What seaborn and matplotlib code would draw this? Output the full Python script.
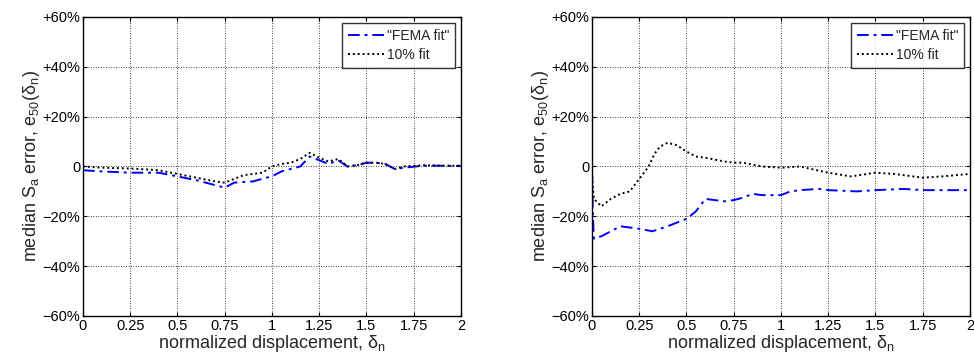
import numpy as np
import pandas as pd
import seaborn as sns
import matplotlib.pyplot as plt
from matplotlib.ticker import FuncFormatter

# painel esquerdo
x_esq_fema = [0, 0.1, 0.25, 0.4, 0.5, 0.6, 0.7, 0.75, 0.8, 0.9, 0.97, 1.0, 1.05, 1.1, 1.15,
              1.2, 1.25, 1.3, 1.35, 1.4, 1.45, 1.5, 1.55, 1.6, 1.65, 1.7, 1.8, 1.9, 2.0]
y_esq_fema = [-1.5, -2.0, -2.5, -2.5, -4.0, -5.5, -7.5, -8.5, -6.5, -6.0, -4.5, -4.0, -2.0, -1.0, 0.0,
              4.0, 2.5, 1.0, 2.5, 0.0, 0.5, 1.5, 1.5, 1.0, -1.0, -0.5, 0.3, 0.3, 0.2]
x_esq_10 = [0, 0.1, 0.25, 0.4, 0.5, 0.6, 0.7, 0.75, 0.8, 0.85, 0.95, 1.0, 1.05, 1.1, 1.15,
            1.2, 1.25, 1.3, 1.35, 1.4, 1.45, 1.5, 1.55, 1.6, 1.65, 1.7, 1.8, 1.9, 2.0]
y_esq_10 = [0.0, -0.5, -0.8, -1.5, -3.0, -4.5, -6.0, -6.5, -5.0, -3.5, -2.5, 0.0, 1.0, 1.5, 3.0,
            5.5, 3.5, 2.0, 3.0, 0.0, 0.5, 1.5, 1.5, 1.0, -1.0, 0.0, 0.5, 0.3, 0.3]

# painel direito
x_dir_fema = [0, 0.005, 0.01, 0.05, 0.1, 0.15, 0.2, 0.25, 0.32, 0.4, 0.45, 0.5, 0.55, 0.6, 0.65,
              0.7, 0.75, 0.8, 0.85, 0.9, 1.0, 1.05, 1.1, 1.2, 1.25, 1.4, 1.5, 1.65, 1.75, 2.0]
y_dir_fema = [-2.0, -20.0, -29.0, -28.0, -26.0, -24.0, -24.5, -25.0, -26.0, -24.0, -22.5, -21.0, -18.0, -13.0, -13.5,
              -14.0, -13.5, -12.5, -11.0, -11.5, -11.5, -10.0, -9.5, -9.0, -9.5, -10.0, -9.5, -9.0, -9.5, -9.5]
x_dir_10 = [0, 0.005, 0.01, 0.05, 0.1, 0.15, 0.2, 0.25, 0.3, 0.33, 0.36, 0.4, 0.45, 0.5, 0.55,
            0.6, 0.7, 0.75, 0.8, 0.9, 1.0, 1.1, 1.25, 1.37, 1.5, 1.6, 1.75, 1.85, 2.0]
y_dir_10 = [-2.0, -9.0, -13.0, -16.0, -13.0, -11.0, -10.0, -5.0, 0.0, 5.0, 8.0, 9.5, 8.5, 6.0, 4.0,
            3.5, 2.0, 1.5, 1.5, 0.0, -0.5, 0.0, -2.5, -4.0, -2.5, -3.0, -4.5, -4.0, -3.0]

xticks = [0, 0.25, 0.5, 0.75, 1, 1.25, 1.5, 1.75, 2]
xticklabels = ['0', '0.25', '0.5', '0.75', '1', '1.25', '1.5', '1.75', '2']
yticks = [-60, -40, -20, 0, 20, 40, 60]


def fmt_pct(v, pos):
    if v == 0:
        return '0'
    if v > 0:
        return '+%d%%' % v
    return '\u2212%d%%' % abs(v)


sns.set_style('white')
plt.rcParams['font.family'] = ['Liberation Sans', 'DejaVu Sans']
plt.rcParams['mathtext.default'] = 'regular'

fig = plt.figure(figsize=(9.74, 3.59), dpi=100)
ax1 = fig.add_axes([0.0852, 0.1198, 0.388, 0.833])
ax2 = fig.add_axes([0.6078, 0.1198, 0.388, 0.833])

paineis = [(ax1, x_esq_fema, y_esq_fema, x_esq_10, y_esq_10),
           (ax2, x_dir_fema, y_dir_fema, x_dir_10, y_dir_10)]

for ax, xf, yf, x10, y10 in paineis:
    sns.lineplot(x=xf, y=yf, ax=ax, color='#0000ff', linestyle=(0, (6, 2.5, 1.5, 2.5)),
                 linewidth=1.4, label='"FEMA fit"', sort=False)
    sns.lineplot(x=x10, y=y10, ax=ax, color='black', linestyle=(0, (1, 1.5)),
                 linewidth=1.4, label='10% fit', sort=False)
    ax.set_xlim(0, 2)
    ax.set_ylim(-60, 60)
    ax.set_xticks(xticks)
    ax.set_xticklabels(xticklabels)
    ax.set_yticks(yticks)
    ax.yaxis.set_major_formatter(FuncFormatter(fmt_pct))
    ax.grid(True, color='black', linestyle=(0, (1, 2)), linewidth=0.6)
    ax.tick_params(direction='in', length=3, labelsize=10.5, pad=2, top=True, right=True,
                   bottom=True, left=True, colors='black')
    for s in ax.spines.values():
        s.set_color('black')
        s.set_linewidth(1.0)
    ax.set_xlabel(r'normalized displacement, $\delta_n$', fontsize=13, labelpad=0)
    ax.set_ylabel(r'median S$_a$ error, e$_{50}$($\delta_n$)', fontsize=13, labelpad=0)
    leg = ax.legend(loc='upper right', fontsize=10, frameon=True, fancybox=False,
                    handlelength=2.6, handletextpad=0.2, borderpad=0.45, labelspacing=0.35,
                    borderaxespad=0.4)
    leg.get_frame().set_edgecolor('black')
    leg.get_frame().set_linewidth(1.0)

fig.savefig('out.png', dpi=100)
